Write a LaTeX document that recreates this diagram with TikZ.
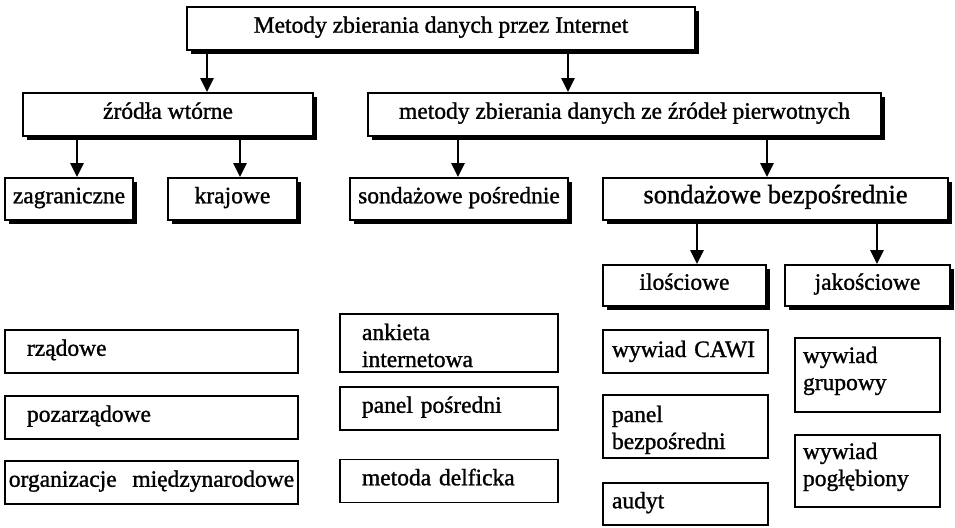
\documentclass[tikz,border=0pt]{standalone}
\usepackage{fontspec}
\setmainfont{Liberation Serif}[BoldFont=Liberation Serif, BoldFeatures={FakeBold=1.2}]
\usetikzlibrary{arrows.meta,shadows}
\begin{document}
\begin{tikzpicture}[x=1pt, y=-1pt,
  txt/.style={font=\fontsize{23.5}{27}\selectfont\bfseries, text height=15pt, text depth=6.5pt},
  shbox/.style={txt, draw, line width=1.8pt, fill=white, inner sep=0pt, minimum height=43pt,
    drop shadow={shadow xshift=4pt, shadow yshift=-4pt, fill=black, opacity=1}},
  box/.style={txt, draw, line width=1.8pt, align=left, inner ysep=0pt, minimum height=43pt},
  arr/.style={-{Triangle[length=14pt,width=13pt]}, line width=2.5pt}]
\useasboundingbox (0,0) rectangle (955,527);
% top levels
\node[shbox, minimum width=508pt] at (441,28.5) (top) {Metody zbierania danych przez Internet};
\node[shbox, minimum width=290pt] at (168,114.5) (wtorne) {źródła wtórne};
\node[shbox, minimum width=513pt] at (624.5,114.5) (pierw) {metody zbierania danych ze źródeł pierwotnych};
\node[shbox, minimum width=128pt, minimum height=42pt] at (69,199) (zagr) {zagraniczne};
\node[shbox, minimum width=129pt, minimum height=42pt] at (232.5,199) (kraj) {krajowe};
\node[shbox, minimum width=218pt, minimum height=42pt] at (459,199) (sposr) {sondażowe pośrednie};
\node[shbox, minimum width=345pt, minimum height=42pt, font=\fontsize{26.5}{30}\selectfont\bfseries] at (775.5,199) (sbezp) {sondażowe bezpośrednie};
\node[shbox, minimum width=163pt, minimum height=41pt] at (684.5,285.5) (ilosc) {ilościowe};
\node[shbox, minimum width=165pt, minimum height=41pt] at (867.5,285.5) (jakosc) {jakościowe};
% plain boxes
\node[box, inner xsep=22pt, text width=249pt] at (151.5,351.5) (rzad) {rządowe};
\node[box, inner xsep=22pt, text width=249pt] at (151.5,417.5) (pozarz) {pozarządowe};
\node[box, inner xsep=0pt, text width=293pt, align=center] at (151.5,482.5) (miedzyn) {organizacje~~międzynarodowe};
\node[box, inner xsep=22pt, text width=174pt, minimum height=58pt, text depth=21pt] at (449,343) (ankieta) {ankieta\\internetowa};
\node[box, inner xsep=22pt, text width=174pt] at (449,408.5) (panelp) {panel pośredni};
\node[box, inner xsep=22pt, text width=174pt] at (449,481) (delfi) {metoda delficka};
\node[box, inner xsep=9pt, text width=147pt, text height=16pt, text depth=5pt] at (685.5,351.5) (cawi) {wywiad CAWI};
\node[box, inner xsep=9pt, text width=147pt, minimum height=63pt, text depth=24pt] at (685.5,426.5) (panelb) {panel\\bezpośredni};
\node[box, inner xsep=9pt, text width=147pt, minimum height=42pt] at (685.5,504) (audyt) {audyt};
\node[box, inner xsep=8pt, text width=129pt, minimum height=74pt, text depth=39pt] at (867.5,375) (grup) {wywiad\\grupowy};
\node[box, inner xsep=8pt, text width=129pt, minimum height=72pt, text depth=39pt] at (867.5,471) (pogleb) {wywiad\\pogłębiony};
% arrows
\draw[arr] ([xshift=-234pt]top.south) -- ([xshift=39pt]wtorne.north);
\draw[arr] ([xshift=127pt]top.south) -- ([xshift=-56.5pt]pierw.north);
\draw[arr] ([xshift=-91pt]wtorne.south) -- ([xshift=8pt]zagr.north);
\draw[arr] ([xshift=72pt]wtorne.south) -- ([xshift=7.5pt]kraj.north);
\draw[arr] ([xshift=-166.5pt]pierw.south) -- ([xshift=-1pt]sposr.north);
\draw[arr] ([xshift=142.5pt]pierw.south) -- ([xshift=-8.5pt]sbezp.north);
\draw[arr] ([xshift=-78.5pt]sbezp.south) -- ([xshift=12.5pt]ilosc.north);
\draw[arr] ([xshift=101.5pt]sbezp.south) -- ([xshift=9.5pt]jakosc.north);
\end{tikzpicture}
\end{document}
